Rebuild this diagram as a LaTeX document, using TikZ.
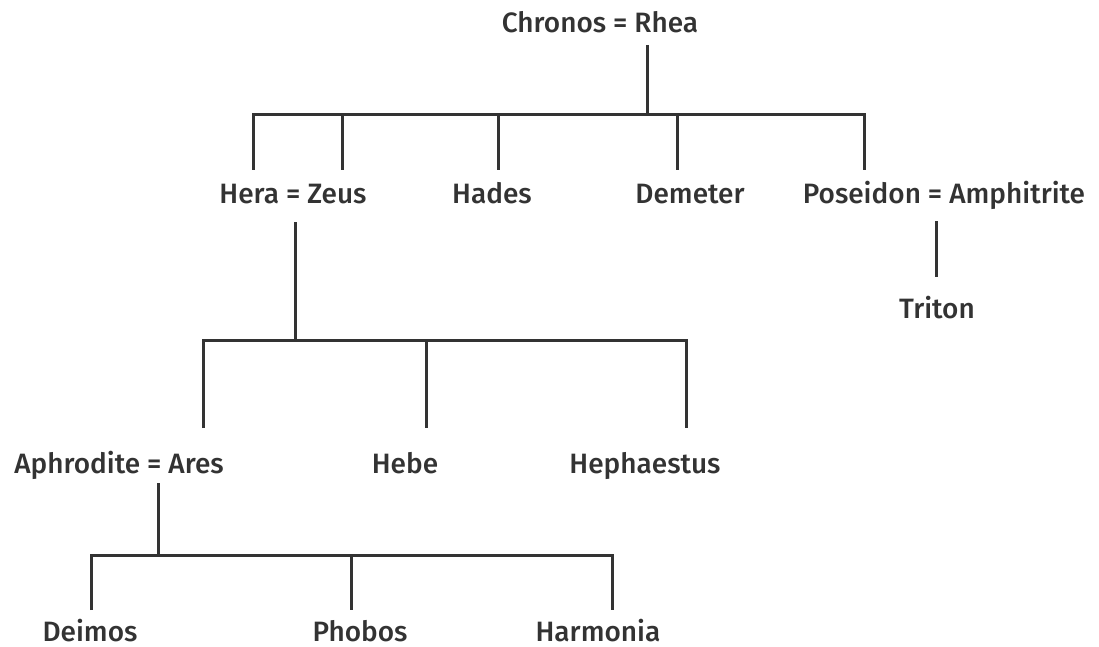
\documentclass[tikz,border=0pt]{standalone}
\usepackage{fontspec}
\setmainfont{Fira Sans Medium}
\begin{document}
\begin{tikzpicture}[x=1pt,y=-1pt,
  person/.style={font=\fontsize{28}{32}\selectfont, inner sep=0pt, anchor=base, text depth=0pt, text=black!80},
  tree/.style={line width=3pt, black!80}]
\useasboundingbox (0,0) rectangle (1099,647);
% nodes
\node[person] (cr) at (600,33) {Chronos = Rhea};
\node[person] (hz) at (293,204) {Hera = Zeus};
\node[person] (ha) at (492,204) {Hades};
\node[person] (de) at (690,204) {Demeter};
\node[person] (pa) at (944,204) {Poseidon = Amphitrite};
\node[person] (tr) at (937,318) {Triton};
\node[person] (aa) at (119,473) {Aphrodite = Ares};
\node[person] (he) at (405,473) {Hebe};
\node[person] (hp) at (645,473) {Hephaestus};
\node[person] (dm) at (90,641) {Deimos};
\node[person] (ph) at (360,641) {Phobos};
\node[person] (hm) at (598,641) {Harmonia};
% junction coordinates
\coordinate (j1) at (647,115);
\coordinate (j2) at (295,340);
\coordinate (j3) at (158,555);
% generation 1
\draw[tree] (647,45) -- (j1);
\draw[tree] (253,170) -- (253,115) -- (864,115) -- (864,170);
\draw[tree] (342,115) -- (342,170);
\draw[tree] (498,115) -- (498,170);
\draw[tree] (677,115) -- (677,170);
% Poseidon - Triton
\draw[tree] (936,221) -- (936,277);
% generation 2
\draw[tree] (295,222) -- (j2);
\draw[tree] (203,428) -- (203,340) -- (686,340) -- (686,428);
\draw[tree] (426,340) -- (426,428);
% generation 3
\draw[tree] (158,483) -- (j3);
\draw[tree] (91,610) -- (91,555) -- (612,555) -- (612,610);
\draw[tree] (351,555) -- (351,610);
\end{tikzpicture}
\end{document}
